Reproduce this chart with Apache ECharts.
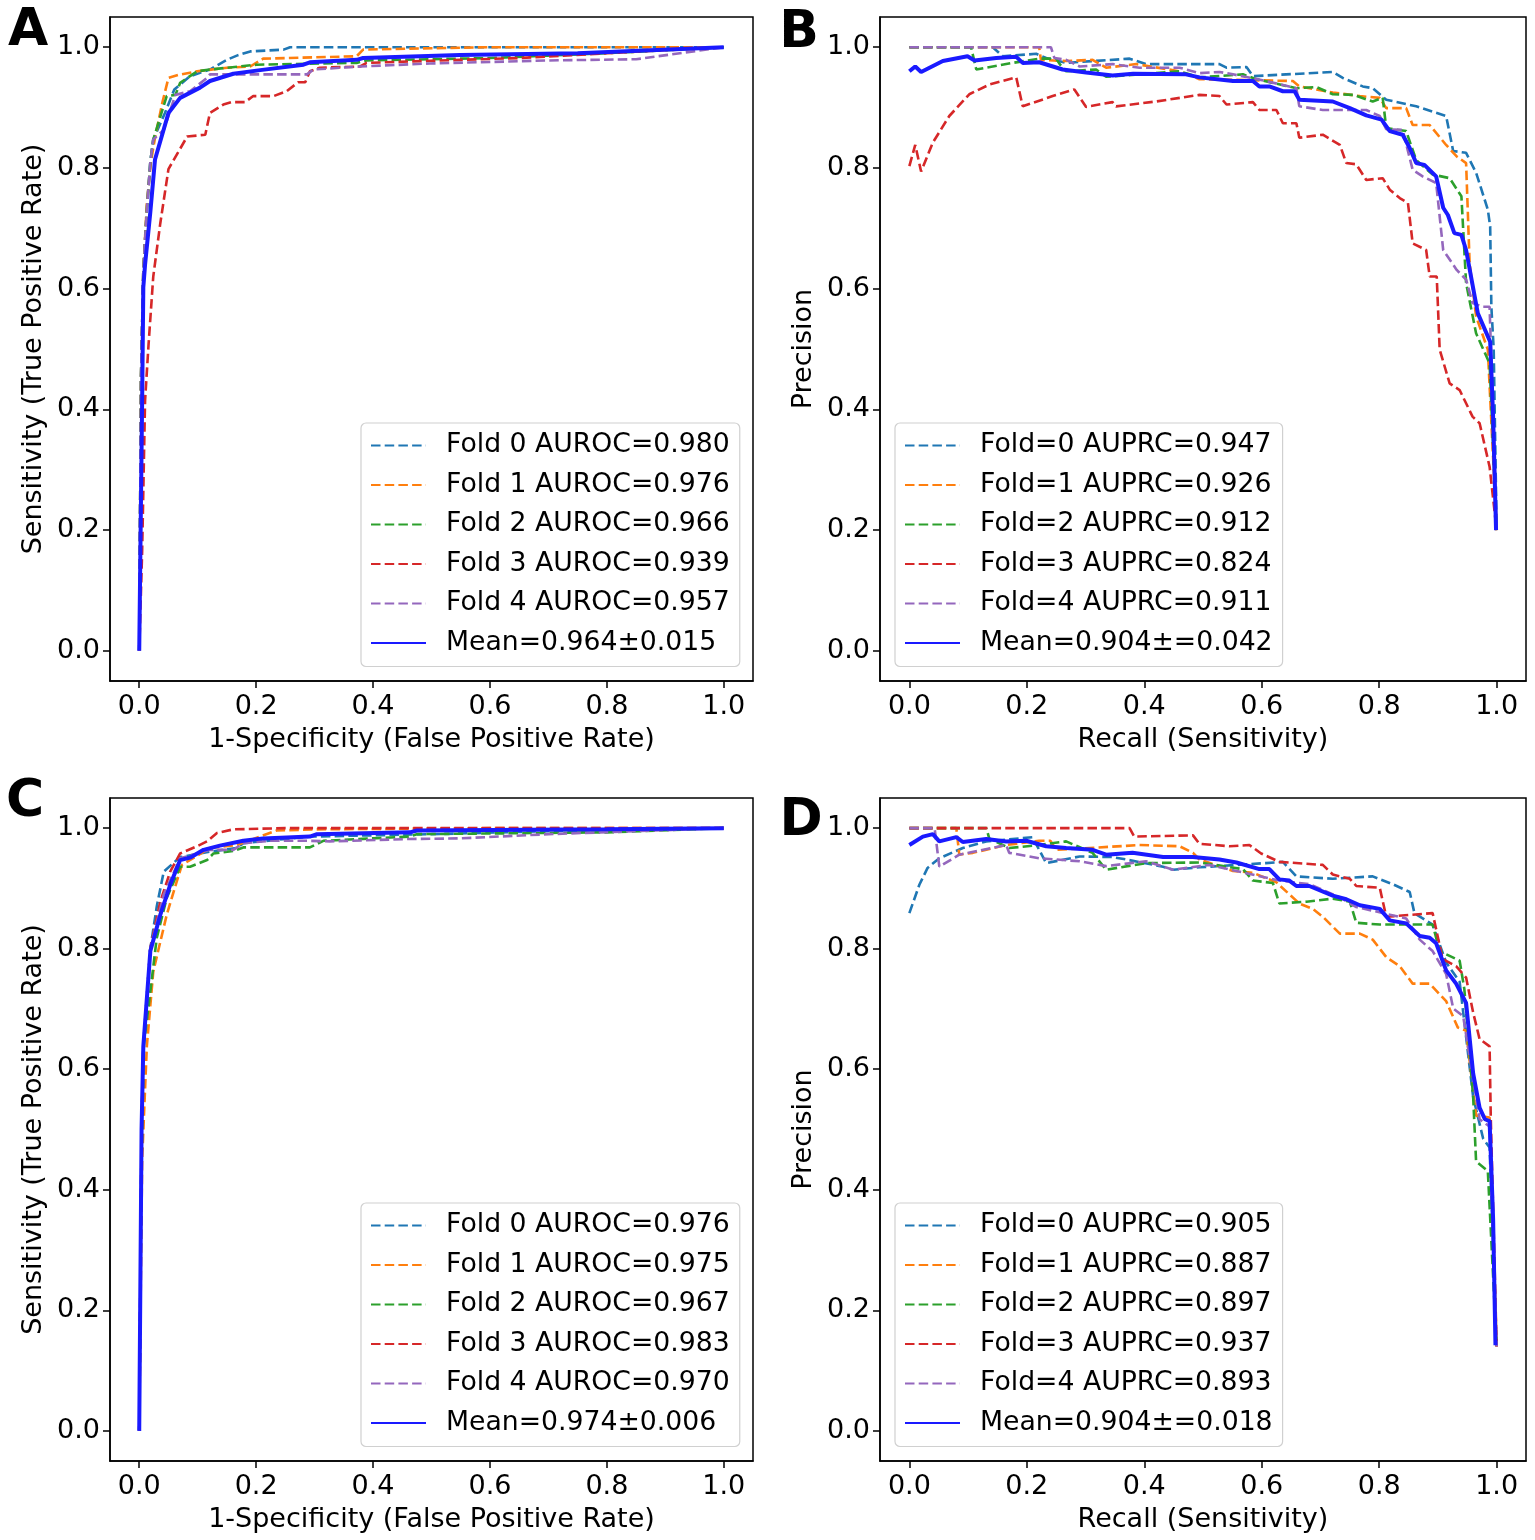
<!DOCTYPE html>
<html lang="en">

<head>
    <meta charset="UTF-8">
    <title>ROC / PR curves</title>
    <script src="https://cdn.jsdelivr.net/npm/echarts@6.0.0/dist/echarts.min.js"></script>
    <style>
        body { margin: 0; background: #fff; }
    </style>
</head>

<body>
    <div id="main" style="width: 1535px;height:1540px;"></div>

    <script>
        // tick labels shared by all four panels
        var ticks = [0, 0.2, 0.4, 0.6, 0.8, 1.0]
        var foldColors = ['#1f77b4', '#ff7f0e', '#2ca02c', '#d62728', '#9467bd']
        var meanColor = '#1a1aff'

        // legend names
        var namesA = ['Fold 0 AUROC=0.980', 'Fold 1 AUROC=0.976', 'Fold 2 AUROC=0.966', 'Fold 3 AUROC=0.939', 'Fold 4 AUROC=0.957', 'Mean=0.964\u00b10.015']
        var namesB = ['Fold=0 AUPRC=0.947', 'Fold=1 AUPRC=0.926', 'Fold=2 AUPRC=0.912', 'Fold=3 AUPRC=0.824', 'Fold=4 AUPRC=0.911', 'Mean=0.904\u00b1=0.042']
        var namesC = ['Fold 0 AUROC=0.976', 'Fold 1 AUROC=0.975', 'Fold 2 AUROC=0.967', 'Fold 3 AUROC=0.983', 'Fold 4 AUROC=0.970', 'Mean=0.974\u00b10.006']
        var namesD = ['Fold=0 AUPRC=0.905', 'Fold=1 AUPRC=0.887', 'Fold=2 AUPRC=0.897', 'Fold=3 AUPRC=0.937', 'Fold=4 AUPRC=0.893', 'Mean=0.904\u00b1=0.018']

        // panel A : ROC  [fpr, tpr]
        var rocA0 = [[0, 0], [0.003, 0.45], [0.007, 0.63], [0.013, 0.73], [0.019, 0.81], [0.024, 0.847], [0.044, 0.891], [0.06, 0.93], [0.087, 0.952], [0.121, 0.963], [0.15, 0.979], [0.167, 0.986], [0.19, 0.993], [0.247, 0.996], [0.258, 1.0], [1.0, 1.0]]
        var rocA1 = [[0, 0], [0.003, 0.45], [0.007, 0.63], [0.013, 0.74], [0.02, 0.81], [0.027, 0.85], [0.04, 0.91], [0.05, 0.949], [0.067, 0.954], [0.099, 0.96], [0.15, 0.966], [0.19, 0.968], [0.212, 0.981], [0.372, 0.985], [0.383, 0.996], [0.486, 0.998], [0.6, 1.0], [1, 1]]
        var rocA2 = [[0, 0], [0.003, 0.45], [0.007, 0.63], [0.013, 0.73], [0.019, 0.81], [0.024, 0.847], [0.047, 0.919], [0.062, 0.921], [0.07, 0.941], [0.099, 0.96], [0.121, 0.963], [0.201, 0.971], [0.372, 0.974], [0.389, 0.978], [0.6, 0.982], [0.8, 0.99], [0.9, 0.995], [1, 1]]
        var rocA3 = [[0, 0], [0.005, 0.165], [0.01, 0.415], [0.016, 0.508], [0.024, 0.62], [0.036, 0.708], [0.05, 0.798], [0.082, 0.852], [0.113, 0.855], [0.121, 0.891], [0.144, 0.905], [0.158, 0.909], [0.181, 0.909], [0.195, 0.919], [0.23, 0.919], [0.252, 0.927], [0.272, 0.942], [0.284, 0.942], [0.292, 0.96], [0.309, 0.966], [0.378, 0.968], [0.389, 0.974], [0.549, 0.979], [0.65, 0.982], [0.8, 0.99], [1, 1]]
        var rocA4 = [[0, 0], [0.003, 0.45], [0.007, 0.63], [0.013, 0.73], [0.019, 0.81], [0.024, 0.847], [0.042, 0.863], [0.062, 0.921], [0.087, 0.927], [0.116, 0.949], [0.121, 0.955], [0.287, 0.955], [0.298, 0.963], [0.378, 0.968], [0.497, 0.973], [0.7, 0.978], [0.85, 0.98], [1, 1]]
        var rocAm = [[0, 0], [0.005, 0.415], [0.007, 0.602], [0.01, 0.64], [0.019, 0.727], [0.027, 0.814], [0.05, 0.891], [0.07, 0.916], [0.104, 0.933], [0.121, 0.944], [0.161, 0.956], [0.207, 0.962], [0.281, 0.971], [0.292, 0.975], [0.372, 0.979], [0.383, 0.982], [0.549, 0.987], [0.75, 0.99], [1, 1]]

        // panel B : PR  [recall, precision]
        var prB0 = [[0, 1], [0.142, 1], [0.159, 0.985], [0.216, 0.989], [0.233, 0.982], [0.267, 0.974], [0.375, 0.981], [0.403, 0.972], [0.528, 0.972], [0.54, 0.966], [0.574, 0.967], [0.585, 0.952], [0.721, 0.959], [0.738, 0.949], [0.772, 0.935], [0.789, 0.932], [0.812, 0.913], [0.863, 0.902], [0.914, 0.886], [0.926, 0.828], [0.948, 0.825], [0.965, 0.792], [0.985, 0.731], [0.989, 0.703], [0.991, 0.57], [0.995, 0.5], [1, 0.2]]
        var prB1 = [[0, 1], [0.221, 1], [0.224, 0.979], [0.267, 0.977], [0.312, 0.979], [0.335, 0.966], [0.386, 0.972], [0.46, 0.96], [0.494, 0.947], [0.653, 0.944], [0.664, 0.935], [0.721, 0.925], [0.767, 0.919], [0.801, 0.916], [0.812, 0.899], [0.846, 0.899], [0.857, 0.871], [0.886, 0.871], [0.914, 0.838], [0.932, 0.819], [0.948, 0.808], [0.954, 0.642], [0.965, 0.554], [0.985, 0.499], [1, 0.2]]
        var prB2 = [[0, 1], [0.105, 1], [0.114, 0.963], [0.176, 0.974], [0.221, 0.981], [0.25, 0.981], [0.256, 0.972], [0.267, 0.96], [0.318, 0.963], [0.335, 0.951], [0.46, 0.96], [0.477, 0.955], [0.494, 0.95], [0.568, 0.955], [0.591, 0.947], [0.659, 0.932], [0.693, 0.934], [0.721, 0.922], [0.756, 0.921], [0.789, 0.91], [0.806, 0.916], [0.812, 0.866], [0.846, 0.861], [0.863, 0.813], [0.891, 0.789], [0.92, 0.783], [0.94, 0.753], [0.948, 0.609], [0.965, 0.526], [0.988, 0.476], [1, 0.2]]
        var prB3 = [[0, 0.803], [0.01, 0.838], [0.02, 0.794], [0.04, 0.842], [0.068, 0.886], [0.102, 0.922], [0.136, 0.938], [0.182, 0.95], [0.193, 0.902], [0.244, 0.919], [0.281, 0.93], [0.301, 0.901], [0.346, 0.909], [0.352, 0.902], [0.42, 0.91], [0.494, 0.921], [0.528, 0.919], [0.54, 0.905], [0.585, 0.909], [0.596, 0.896], [0.625, 0.896], [0.636, 0.874], [0.659, 0.874], [0.664, 0.85], [0.704, 0.855], [0.733, 0.838], [0.744, 0.808], [0.761, 0.806], [0.778, 0.78], [0.806, 0.783], [0.818, 0.764], [0.835, 0.75], [0.849, 0.742], [0.857, 0.675], [0.88, 0.664], [0.886, 0.62], [0.898, 0.62], [0.903, 0.499], [0.92, 0.443], [0.937, 0.432], [0.959, 0.388], [0.971, 0.377], [0.988, 0.305], [1, 0.2]]
        var prB4 = [[0, 1], [0.241, 1], [0.247, 0.982], [0.267, 0.979], [0.29, 0.968], [0.346, 0.972], [0.392, 0.966], [0.46, 0.966], [0.494, 0.957], [0.528, 0.959], [0.551, 0.955], [0.607, 0.944], [0.659, 0.932], [0.664, 0.902], [0.704, 0.896], [0.778, 0.896], [0.801, 0.886], [0.812, 0.864], [0.84, 0.863], [0.857, 0.797], [0.874, 0.786], [0.897, 0.775], [0.909, 0.664], [0.932, 0.631], [0.948, 0.615], [0.959, 0.576], [0.976, 0.57], [0.988, 0.57], [0.99, 0.51], [1, 0.2]]
        var prBm = [[0, 0.96], [0.01, 0.968], [0.02, 0.959], [0.057, 0.977], [0.099, 0.985], [0.111, 0.978], [0.148, 0.982], [0.182, 0.984], [0.193, 0.974], [0.221, 0.975], [0.261, 0.963], [0.301, 0.958], [0.346, 0.953], [0.381, 0.956], [0.471, 0.955], [0.494, 0.95], [0.551, 0.944], [0.585, 0.944], [0.596, 0.935], [0.613, 0.935], [0.636, 0.927], [0.656, 0.927], [0.664, 0.913], [0.721, 0.91], [0.75, 0.899], [0.778, 0.887], [0.804, 0.88], [0.818, 0.861], [0.84, 0.855], [0.852, 0.833], [0.863, 0.808], [0.877, 0.805], [0.897, 0.786], [0.909, 0.734], [0.917, 0.722], [0.928, 0.692], [0.94, 0.689], [0.948, 0.664], [0.968, 0.559], [0.989, 0.512], [0.994, 0.388], [0.999, 0.2]]

        // panel C : ROC
        var rocC0 = [[0, 0], [0.004, 0.5], [0.007, 0.64], [0.019, 0.8], [0.03, 0.87], [0.042, 0.928], [0.07, 0.952], [0.121, 0.961], [0.167, 0.967], [0.178, 0.975], [0.292, 0.986], [0.5, 0.99], [0.7, 0.995], [1, 1]]
        var rocC1 = [[0, 0], [0.005, 0.45], [0.013, 0.638], [0.024, 0.762], [0.047, 0.856], [0.064, 0.911], [0.073, 0.939], [0.121, 0.967], [0.167, 0.972], [0.235, 0.996], [0.3, 0.998], [0.6, 1], [1, 1]]
        var rocC2 = [[0, 0], [0.004, 0.45], [0.008, 0.64], [0.03, 0.818], [0.047, 0.884], [0.07, 0.936], [0.087, 0.936], [0.116, 0.947], [0.127, 0.958], [0.161, 0.962], [0.178, 0.968], [0.292, 0.968], [0.315, 0.979], [0.463, 0.986], [0.475, 0.99], [0.8, 0.993], [1, 1]]
        var rocC3 = [[0, 0], [0.004, 0.5], [0.007, 0.638], [0.019, 0.801], [0.036, 0.878], [0.053, 0.928], [0.07, 0.958], [0.099, 0.97], [0.116, 0.978], [0.133, 0.992], [0.161, 0.998], [0.25, 1], [1, 1]]
        var rocC4 = [[0, 0], [0.004, 0.5], [0.007, 0.64], [0.019, 0.8], [0.042, 0.89], [0.07, 0.95], [0.121, 0.964], [0.161, 0.964], [0.178, 0.975], [0.224, 0.979], [0.292, 0.979], [0.326, 0.978], [0.463, 0.982], [0.549, 0.983], [0.7, 0.99], [1, 1]]
        var rocCm = [[0, 0], [0.004, 0.5], [0.007, 0.638], [0.019, 0.796], [0.036, 0.856], [0.053, 0.906], [0.07, 0.947], [0.087, 0.951], [0.11, 0.964], [0.138, 0.971], [0.178, 0.979], [0.212, 0.983], [0.292, 0.986], [0.304, 0.99], [0.463, 0.993], [0.475, 0.996], [0.8, 0.998], [1, 1]]

        // panel D : PR
        var prD0 = [[0, 0.859], [0.017, 0.906], [0.031, 0.934], [0.051, 0.95], [0.091, 0.967], [0.131, 0.978], [0.21, 0.985], [0.221, 0.964], [0.233, 0.942], [0.29, 0.953], [0.346, 0.952], [0.369, 0.948], [0.432, 0.936], [0.449, 0.931], [0.494, 0.935], [0.607, 0.942], [0.636, 0.944], [0.659, 0.92], [0.721, 0.916], [0.789, 0.92], [0.823, 0.907], [0.852, 0.894], [0.86, 0.859], [0.891, 0.84], [0.914, 0.777], [0.937, 0.745], [0.96, 0.554], [0.977, 0.485], [0.988, 0.47], [1, 0.14]]
        var prD1 = [[0, 1], [0.08, 1], [0.085, 0.956], [0.108, 0.959], [0.165, 0.972], [0.221, 0.979], [0.24, 0.979], [0.25, 0.964], [0.29, 0.966], [0.392, 0.972], [0.46, 0.97], [0.483, 0.959], [0.494, 0.948], [0.551, 0.929], [0.585, 0.926], [0.625, 0.91], [0.664, 0.875], [0.687, 0.866], [0.704, 0.853], [0.733, 0.825], [0.767, 0.825], [0.789, 0.815], [0.812, 0.786], [0.835, 0.771], [0.857, 0.742], [0.886, 0.742], [0.914, 0.713], [0.934, 0.669], [0.948, 0.664], [0.965, 0.523], [0.988, 0.52], [1, 0.14]]
        var prD2 = [[0, 1], [0.131, 1], [0.136, 0.983], [0.17, 0.967], [0.221, 0.972], [0.267, 0.978], [0.312, 0.959], [0.335, 0.931], [0.403, 0.942], [0.494, 0.943], [0.568, 0.932], [0.585, 0.913], [0.619, 0.909], [0.63, 0.875], [0.676, 0.878], [0.721, 0.883], [0.75, 0.878], [0.761, 0.843], [0.801, 0.84], [0.891, 0.84], [0.903, 0.796], [0.937, 0.78], [0.945, 0.733], [0.96, 0.555], [0.965, 0.447], [0.985, 0.431], [1, 0.14]]
        var prD3 = [[0, 1], [0.375, 1], [0.383, 0.986], [0.483, 0.988], [0.494, 0.974], [0.545, 0.97], [0.579, 0.972], [0.599, 0.958], [0.63, 0.944], [0.704, 0.939], [0.721, 0.923], [0.75, 0.916], [0.761, 0.904], [0.801, 0.901], [0.812, 0.853], [0.891, 0.859], [0.908, 0.783], [0.931, 0.771], [0.948, 0.752], [0.96, 0.694], [0.971, 0.65], [0.988, 0.638], [0.99, 0.52], [1, 0.14]]
        var prD4 = [[0, 1], [0.043, 1], [0.051, 0.936], [0.085, 0.956], [0.165, 0.972], [0.17, 0.959], [0.221, 0.95], [0.29, 0.945], [0.335, 0.937], [0.403, 0.945], [0.449, 0.931], [0.511, 0.939], [0.63, 0.913], [0.681, 0.907], [0.733, 0.885], [0.761, 0.869], [0.789, 0.863], [0.846, 0.85], [0.869, 0.815], [0.891, 0.796], [0.914, 0.758], [0.926, 0.701], [0.943, 0.688], [0.971, 0.517], [0.988, 0.505], [1, 0.14]]
        var prDm = [[0, 0.972], [0.023, 0.986], [0.04, 0.99], [0.051, 0.978], [0.08, 0.985], [0.091, 0.977], [0.131, 0.982], [0.165, 0.978], [0.199, 0.979], [0.233, 0.97], [0.267, 0.967], [0.312, 0.964], [0.335, 0.956], [0.38, 0.959], [0.432, 0.952], [0.483, 0.952], [0.528, 0.948], [0.557, 0.943], [0.596, 0.932], [0.613, 0.932], [0.63, 0.915], [0.647, 0.913], [0.659, 0.904], [0.681, 0.904], [0.721, 0.888], [0.744, 0.882], [0.767, 0.872], [0.801, 0.866], [0.818, 0.847], [0.846, 0.842], [0.869, 0.821], [0.886, 0.818], [0.897, 0.809], [0.914, 0.764], [0.931, 0.742], [0.948, 0.71], [0.96, 0.593], [0.971, 0.536], [0.98, 0.517], [0.988, 0.514], [0.994, 0.352], [0.998, 0.142]]

        var FONT = 'DejaVu Sans'
        var FS = 27

        var panels = [
            { grid: { left: 110, top: 17, width: 643, height: 664 }, names: namesA, curves: [rocA0, rocA1, rocA2, rocA3, rocA4, rocAm], xName: '1-Specificity (False Positive Rate)', yName: 'Sensitivity (True Positive Rate)', legend: { left: 361, top: 423 } },
            { grid: { left: 880, top: 17, width: 646, height: 664 }, names: namesB, curves: [prB0, prB1, prB2, prB3, prB4, prBm], xName: 'Recall (Sensitivity)', yName: 'Precision', legend: { left: 895, top: 423 } },
            { grid: { left: 110, top: 798, width: 643, height: 663 }, names: namesC, curves: [rocC0, rocC1, rocC2, rocC3, rocC4, rocCm], xName: '1-Specificity (False Positive Rate)', yName: 'Sensitivity (True Positive Rate)', legend: { left: 361, top: 1203 } },
            { grid: { left: 880, top: 798, width: 646, height: 663 }, names: namesD, curves: [prD0, prD1, prD2, prD3, prD4, prDm], xName: 'Recall (Sensitivity)', yName: 'Precision', legend: { left: 895, top: 1203 } }
        ]

        function axisBase(i, name, gap, labelMargin) {
            return {
                gridIndex: i,
                type: 'value',
                min: -0.05,
                max: 1.05,
                name: name,
                nameLocation: 'middle',
                nameGap: gap,
                nameTextStyle: { fontSize: FS, color: '#000', fontFamily: FONT },
                splitLine: { show: false },
                axisLine: { onZero: false, lineStyle: { color: '#000', width: 1.5 } },
                axisTick: { customValues: ticks, length: 7, lineStyle: { color: '#000', width: 1.5 } },
                axisLabel: {
                    customValues: ticks, margin: labelMargin, fontSize: FS, color: '#000', fontFamily: FONT,
                    formatter: function (v) { return v.toFixed(1) }
                }
            }
        }

        var grids = [], xAxes = [], yAxes = [], legends = [], series = []
        panels.forEach(function (p, i) {
            grids.push(Object.assign({ show: true, borderColor: '#000', borderWidth: 1.5 }, p.grid))
            xAxes.push(axisBase(i, p.xName, 45, 12))
            yAxes.push(axisBase(i, p.yName, 63, 10))
            legends.push({
                left: p.legend.left, top: p.legend.top,
                orient: 'vertical',
                data: p.names,
                itemWidth: 55, itemHeight: 14, itemGap: 12.5,
                padding: [9, 10, 10, 9],
                selectedMode: false,
                backgroundColor: 'rgba(255,255,255,0.85)',
                borderColor: '#d0d0d0', borderWidth: 1.2, borderRadius: 5,
                textStyle: { fontSize: 26.7, lineHeight: 27, color: '#000', fontFamily: FONT, padding: [0, 0, 0, 15] }
            })
            p.curves.forEach(function (c, k) {
                var isMean = k === 5
                var col = isMean ? meanColor : foldColors[k]
                series.push({
                    type: 'line',
                    name: p.names[k],
                    xAxisIndex: i, yAxisIndex: i,
                    data: c,
                    symbol: 'none',
                    z: isMean ? 5 : 2,
                    // transparent item colour so the legend shows only the line
                    itemStyle: { color: 'rgba(0,0,0,0)' },
                    lineStyle: isMean ? { color: col, width: 4 } : { color: col, width: 2.6, type: [9.5, 4.2] }
                })
            })
        })

        // panel letters
        var letters = [['A', 28, 31], ['B', 799, 33], ['C', 25, 802], ['D', 801, 821]]
        var graphics = letters.map(function (l) {
            return {
                type: 'text', x: l[1], y: l[2], z: 100,
                style: { text: l[0], font: 'bold 52px "DejaVu Sans"', fill: '#000', align: 'center', verticalAlign: 'middle' }
            }
        })

        var mCharts = echarts.init(document.getElementById('main'))
        mCharts.setOption({
            animation: false,
            backgroundColor: '#fff',
            grid: grids,
            xAxis: xAxes,
            yAxis: yAxes,
            legend: legends,
            graphic: graphics,
            series: series
        })
    </script>
</body>

</html>
